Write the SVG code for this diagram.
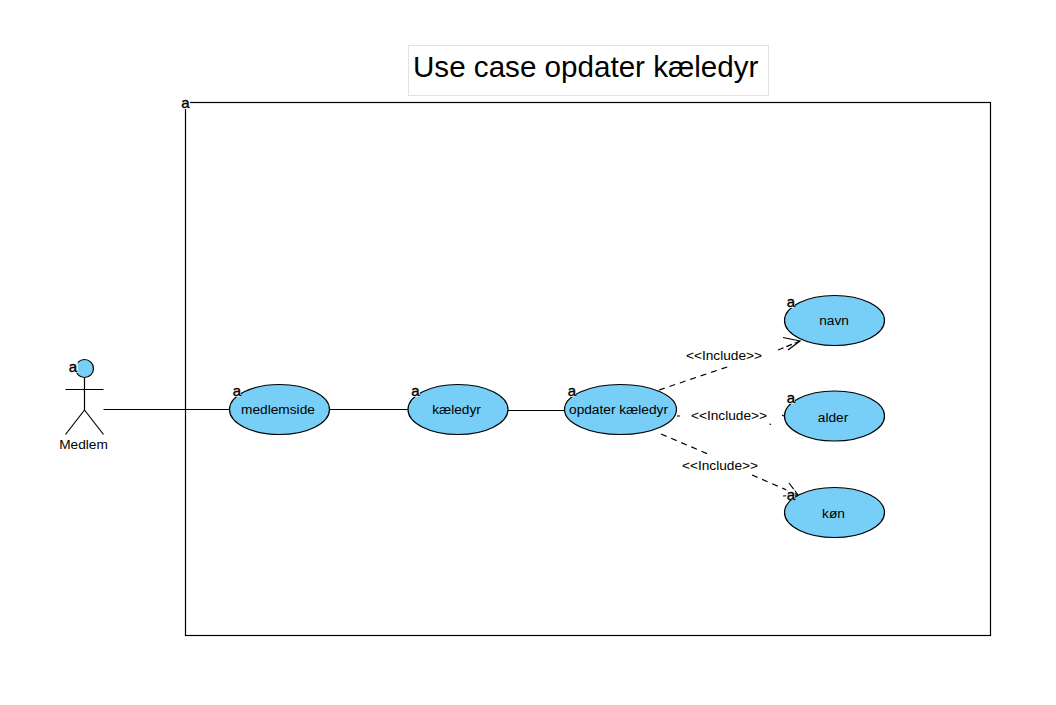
<svg xmlns="http://www.w3.org/2000/svg" width="1056" height="705" viewBox="0 0 1056 705">
<style>
text{font-family:"Liberation Sans",Arial,sans-serif;fill:#000}
.uc{fill:#77CEF6;stroke:#000;stroke-width:1.2}
.lb{font-size:13.7px;text-anchor:middle}
.inc{font-size:13.7px;text-anchor:middle}
.a{font-size:15px;text-anchor:middle;stroke:#000;stroke-width:.35}
.ab{fill:#fff;fill-opacity:.8}
.ln{fill:none;stroke:#000;stroke-width:1.2}
</style>
<rect width="1056" height="705" fill="#fff"/>
<g id="title"><rect x="408.5" y="45.5" width="360" height="50" fill="#fff" stroke="#e2e2e2"/><text x="413" y="77" font-size="29.600">Use case opdater kæledyr</text></g>
<g id="system"><rect x="185.500" y="102.500" width="805" height="533" fill="none" stroke="#000" stroke-width="1.2"/><rect class="ab" x="181" y="97" width="9" height="12" style="fill-opacity:1"/><text class="a" x="185.500" y="108">a</text></g>
<g id="connectors">
<path class="ln" d="M103.500 409.500H229M329.500 409.500H408M508 410.500H565"/>
<path class="ln" d="M659 390L730 366" style="stroke-dasharray:6 5"/>
<path class="ln" d="M778 350L800 341" style="stroke-dasharray:6 3"/>
<path class="ln" d="M783 337.500L800 341L788 350"/>
<path class="ln" d="M677 416L680 416M769.500 424L771 424.500M782 415L785 416.500"/>
<path class="ln" d="M661 434L708 454" style="stroke-dasharray:6 5"/>
<path class="ln" d="M752 475L797 494.500" style="stroke-dasharray:6 5"/>
<path class="ln" d="M789 483L798 495L783 496"/>
</g>
<g id="medlem">
<circle class="uc" cx="84.500" cy="368.500" r="9"/>
<path class="ln" d="M84.500 377.500V410M65.500 389.500H103.500M84.500 410L65.500 434.500M84.500 410L103.500 434.500"/>
<rect class="ab" x="68" y="361" width="10" height="12"/><text class="a" x="73" y="372">a</text>
<text class="lb" x="83.500" y="449">Medlem</text>
</g>
<g id="medlemside"><ellipse class="uc" cx="279.500" cy="409.500" rx="50" ry="25"/><rect class="ab" x="232" y="386" width="9" height="11"/><text class="a" x="237" y="396">a</text><text class="lb" x="278" y="414">medlemside</text></g>
<g id="kaeledyr"><ellipse class="uc" cx="458" cy="409.500" rx="50" ry="25"/><rect class="ab" x="411" y="386" width="9" height="11"/><text class="a" x="415.500" y="396">a</text><text class="lb" x="456.500" y="414">kæledyr</text></g>
<g id="opdater"><ellipse class="uc" cx="620.500" cy="409.500" rx="56" ry="25"/><rect class="ab" x="567" y="386" width="9" height="11"/><text class="a" x="572" y="396">a</text><text class="lb" x="618.500" y="414">opdater kæledyr</text></g>
<g id="navn"><ellipse class="uc" cx="834.500" cy="320.500" rx="50" ry="25"/><rect class="ab" x="786" y="297" width="9" height="11"/><text class="a" x="791" y="307">a</text><text class="lb" x="834" y="325">navn</text></g>
<g id="alder"><ellipse class="uc" cx="834.500" cy="416" rx="50" ry="25"/><rect class="ab" x="786" y="393" width="9" height="11"/><text class="a" x="791" y="403">a</text><text class="lb" x="833" y="422">alder</text></g>
<g id="kon"><ellipse class="uc" cx="834.500" cy="512.500" rx="50" ry="25"/><rect class="ab" x="786" y="489" width="9" height="11"/><text class="a" x="791" y="500">a</text><text class="lb" x="833.500" y="518">køn</text></g>
<g id="labels">
<text class="inc" x="724" y="360">&lt;&lt;Include&gt;&gt;</text>
<text class="inc" x="729" y="420">&lt;&lt;Include&gt;&gt;</text>
<text class="inc" x="720" y="470">&lt;&lt;Include&gt;&gt;</text>
</g>
</svg>
